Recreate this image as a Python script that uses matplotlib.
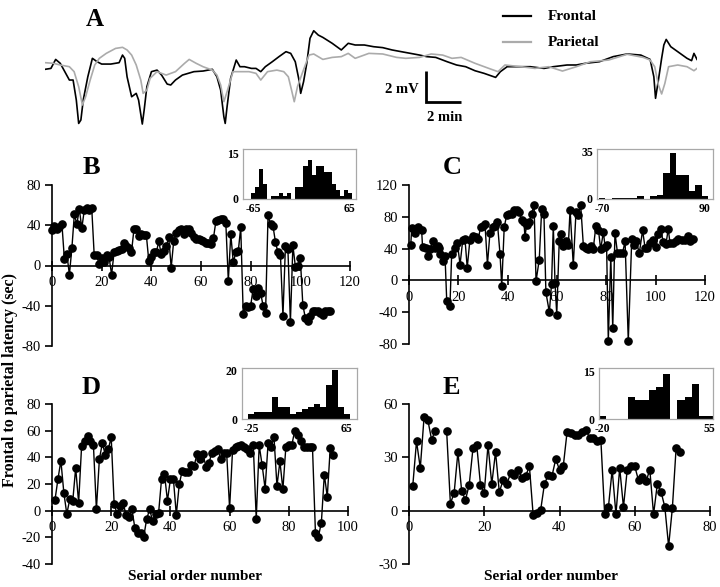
import numpy as np
import matplotlib
matplotlib.use('Agg')
import matplotlib.pyplot as plt
from matplotlib.lines import Line2D

plt.rcParams['font.family'] = ['Liberation Serif', 'DejaVu Serif']

# ---------------- Panel A traces (time in min, voltage in mV) ----------------
frontal_t = [0, 0.35, 0.63, 0.90, 1.17, 1.44, 1.66, 1.85, 1.99, 2.12,
             2.26, 2.53, 2.80, 3.08, 3.35, 3.89, 4.38, 4.58, 4.71, 4.85,
             5.12, 5.39, 5.53, 5.75, 5.86, 6.02, 6.29, 6.62, 6.89, 7.22,
             7.43, 7.71, 8.12, 8.80, 9.34, 9.89, 10.16, 10.38, 10.57, 10.65,
             10.76, 10.97, 11.30, 11.52, 11.79, 12.20, 12.47, 12.75, 13.02, 13.43,
             13.83, 14.24, 14.52, 14.79, 15.01, 15.11, 15.28, 15.47, 15.66, 15.88,
             16.15, 16.42, 16.97, 17.51, 17.92, 18.33, 18.87, 19.42, 19.96, 20.51,
             21.05, 21.60, 22.14, 22.55, 23.09, 23.77, 24.32, 24.86, 25.41, 25.95,
             26.63, 26.91, 27.31, 27.86, 28.68, 29.49, 30.04, 30.85, 31.40, 31.94,
             32.76, 33.58, 34.40, 35.21, 35.76, 35.98, 36.08, 36.25, 36.44, 36.57,
             36.71, 36.98, 37.39, 37.94, 38.21, 38.35, 38.53]
frontal_v = [-0.17, -0.11, 0.47, 0.22, -0.32, -0.86, -0.86, -2.15, -3.66, -3.44,
             -2.15, -0.65, 0.54, 0.32, 0.17, 0.17, 0.26, 0.75, 0.54, -0.65,
             -1.94, -1.72, -2.15, -3.70, -2.80, -1.29, -0.32, -0.22, -0.54, -1.12,
             -1.18, -0.86, -0.54, -0.32, -0.28, -0.17, -0.65, -1.51, -3.23, -3.66,
             -2.58, -0.75, 0.43, 0, 0, -0.11, -0.11, -0.32, 0, 0.32,
             0.65, 0.97, 0.86, 0.32, -0.86, -1.72, -0.97, 0.22, 1.83, 2.32,
             2.04, 1.89, 1.51, 1.08, 1.51, 1.40, 1.40, 1.29, 1.23, 1.08,
             0.97, 0.86, 0.75, 0.65, 0.60, 0.32, 0.11, 0, -0.26, -0.43,
             -0.69, -0.32, 0, 0, 0, -0.11, 0, 0.11, 0.11, 0.22,
             0.32, 0.65, 0.82, 0.75, 0.47, -0.65, -2.04, -0.86, 0.54, 1.40,
             1.76, 1.29, 0.97, 0.54, 0.39, 0.86, 0.47]
parietal_t = [0, 0.49, 0.90, 1.44, 1.72, 1.99, 2.21, 2.40, 2.67, 2.94,
              3.21, 3.62, 4.17, 4.58, 4.85, 5.12, 5.39, 5.66, 5.80, 6.02,
              6.21, 6.62, 7.16, 7.71, 8.25, 8.52, 8.93, 9.34, 9.89, 10.16,
              10.38, 10.57, 10.76, 11.11, 11.52, 12.06, 12.47, 12.75, 13.15, 13.70,
              14.11, 14.38, 14.57, 14.73, 14.92, 15.20, 15.60, 15.88, 16.42, 16.97,
              17.51, 17.92, 18.33, 19.14, 19.96, 20.78, 21.32, 22.14, 22.82, 23.50,
              24.05, 24.59, 25.41, 26.23, 26.77, 27.18, 28.13, 28.95, 29.77, 30.58,
              31.40, 32.22, 33.31, 34.40, 35.35, 35.76, 36.03, 36.25, 36.44, 36.63,
              36.85, 37.39, 37.94, 38.35, 38.53]
parietal_v = [0.26, 0.22, 0.11, 0, -0.32, -1.29, -2.47, -1.94, -0.86, 0.11,
              0.54, 0.86, 1.18, 1.25, 1.08, 0.75, 0.11, -0.86, -1.72, -1.51,
              -0.75, -0.32, -0.54, -0.32, 0.22, 0.47, 0.22, 0, -0.22, -0.54,
              -1.18, -2.26, -1.61, -0.32, -0.32, -0.32, -0.43, -0.86, -0.32, -0.22,
              -0.32, -0.65, -1.51, -2.26, -1.29, -0.43, 0.75, 0.82, 0.47, 0.60,
              0.65, 0.86, 0.54, 0.86, 0.82, 0.60, 0.54, 0.60, 0.82, 0.75,
              0.54, 0.60, 0.22, -0.11, -0.32, 0.11, 0, -0.11, 0, -0.28,
              0, 0.32, 0.43, 0.80, 0.60, 0.43, 0, -1.18, -1.76, -1.08,
              0, 0.11, 0, -0.26, -0.11]

# ---------------- Panel B ----------------
B_y = [35, 39, 36, 38, 41, 6, 11, -9, 17, 51,
       41, 56, 37, 55, 57, 55, 57, 10, 10, 1,
       7, 3, 10, 8, -9, 13, 14, 15, 16, 22,
       19, 17, 13, 36, 36, 29, 31, 30, 30, 4,
       8, 13, 13, 24, 11, 14, 19, 28, -2, 24,
       32, 35, 36, 31, 36, 36, 32, 28, 26, 26,
       25, 24, 22, 22, 21, 27, 44, 45, 46, 46,
       42, -15, 31, 3, 13, 14, 38, -48, -40, -41,
       -40, -23, -30, -22, -27, -40, -47, 50, 41, 39,
       23, 13, 10, -50, 19, 16, -56, 20, -1, 0,
       7, -39, -52, -55, -50, -45, -45, -45, -47, -49,
       -45, -45, -45]
B_x = list(range(len(B_y)))
B_hist = [2, 4, 10, 5, 0, 1, 1, 2, 1, 2, 0, 4, 4, 11, 13, 8, 11, 11, 9, 9, 5, 3, 1, 3, 2]

# ---------------- Panel C ----------------
C_x = [0.7, 1.1, 2.4, 3.8, 5.1, 5.5, 6.9, 7.8, 8.5, 9.6,
       10.5, 11.6, 12.3, 12.6, 13.6, 14.6, 15.3, 16.6, 17.3, 18.6,
       19.6, 20.7, 21.8, 22.7, 23.6, 24.7, 26.1, 27.2, 28.1, 29.0,
       30.1, 30.8, 31.8, 32.8, 33.9, 34.9, 35.8, 36.9, 37.6, 38.6,
       39.6, 40.7, 41.6, 42.6, 43.6, 44.7, 45.7, 46.6, 47.0, 47.7,
       48.8, 49.7, 50.7, 51.5, 52.8, 53.8, 54.7, 55.5, 56.9, 57.8,
       58.5, 59.2, 59.9, 60.9, 61.5, 62.6, 63.6, 64.6, 65.3, 66.6,
       67.7, 68.6, 69.6, 70.7, 71.8, 72.7, 73.6, 74.7, 75.8, 76.8,
       77.7, 78.8, 79.5, 80.1, 80.8, 81.8, 82.6, 83.5, 84.5, 85.5,
       86.6, 87.6, 88.9, 90.3, 91.2, 92.0, 93.4, 94.7, 95.7, 96.6,
       97.7, 99.0, 100.1, 101.1, 102.0, 103.1, 104.2, 105.1, 105.8, 107.2,
       108.2, 109.2, 110.5, 111.9, 113.2, 113.9, 115.0]
C_y = [44, 66, 59, 67, 64, 42, 41, 31, 39, 49,
       41, 43, 41, 33, 24, 31, -26, -32, 33, 41,
       47, 20, 51, 52, 16, 51, 56, 55, 52, 67,
       69, 71, 20, 59, 67, 69, 74, 33, -7, 67,
       82, 83, 83, 89, 89, 86, 76, 74, 55, 70,
       74, 84, 95, -1, 26, 90, 84, -15, -40, -4,
       69, -3, -43, 49, 58, 43, 49, 44, 89, 19,
       86, 82, 95, 43, 41, 39, 43, 40, 69, 64,
       39, 61, 42, 44, -76, 30, -60, 60, 35, 35,
       35, 49, -76, 52, 44, 49, 35, 63, 41, 41,
       47, 51, 42, 58, 65, 48, 46, 65, 47, 47,
       49, 52, 51, 51, 56, 49, 52]
C_hist = [1, 0, 1, 1, 1, 1, 2, 0, 2, 3, 19, 34, 18, 18, 6, 10, 2]

# ---------------- Panel D ----------------
D_y = [8, 23.5, 37.5, 13.5, -2.5, 8.5, 7, 32, 6, 48.5,
       52, 56, 52.5, 49, 1, 38.5, 50.5, 42, 46, 55,
       5, -2.5, 3.5, 6, -3, -4.5, 1, -13, -17, -17,
       -19.5, -6, 1, -8, -2.5, -2, 23.5, 27.5, 7.5, 23.5,
       24, -3, 20, 30, 29, 29, 34, 33.5, 42.5, 38.5,
       42.5, 33, 35.5, 43.5, 45, 46, 38.5, 43.5, 43.5, 1.8,
       45.5, 47.5, 48.5, 49, 47.5, 46, 43.5, 49, -6, 49,
       34, 16.5, 50.5, 47.5, 55, 18.5, 37, 16, 47.5, 49,
       49, 60, 57, 52.5, 47.5, 47.5, 47.5, 47.5, -16.5, -19.5,
       -9, 27, 10.5, 47, 42]
D_x = list(range(1, len(D_y) + 1))
D_hist = [2, 3, 3, 3, 9, 5, 5, 2, 3, 4, 5, 6, 5, 14, 20, 5, 2]

# ---------------- Panel E ----------------
E_y = [14, 39, 24, 52.5, 51, 40, 45, np.nan, np.nan, 45,
       4, 10, 33, 11, 6, 14.5, 35, 37, 14.5, 10,
       37, 15, 33, 10.5, 17, 15, 21, 20, 23, 18.5,
       19.5, 25, -2.5, -1.5, 0.5, 15, 20, 19.5, 29, 23,
       25, 44, 43.5, 42.5, 42.5, 44.5, 45.5, 41, 41, 39,
       39.5, -2, 2, 23, -2, 24, 2, 23, 25, 25,
       17, 19, 16.5, 23, -2, 15, 10.5, 2, -20, 1.5,
       35.5, 33]
E_x = list(range(1, len(E_y) + 1))
E_hist = [1, 0, 0, 0, 7, 6, 6, 9, 10, 14, 0, 6, 7, 11, 1, 1]

W, H = 720, 587
fig = plt.figure(figsize=(W / 100, H / 100), dpi=100)


def frac_rect(l, t, r, b):
    return [l / W, 1 - b / H, (r - l) / W, (b - t) / H]


# ---------------- Panel A ----------------
axA = fig.add_axes(frac_rect(45, 26.4, 697, 128.7))
axA.plot(frontal_t, frontal_v, color='black', lw=1.2)
axA.plot(parietal_t, parietal_v, color='#ababab', lw=1.2)
axA.set_xlim(0, 38.53)
axA.set_ylim(-4, 2.6)
axA.axis('off')
axA.plot([22.53, 22.53, 24.6], [-0.3, -2.3, -2.3], color='black', lw=2.0,
         solid_capstyle='butt', solid_joinstyle='miter')
axA.text(22.1, -1.45, '2 mV', ha='right', va='center', fontsize=10.5, fontweight='bold')
axA.text(23.6, -3.25, '2 min', ha='center', va='center', fontsize=10.5, fontweight='bold')

fig.add_artist(Line2D([503 / W, 531 / W], [1 - 16 / H] * 2, color='black', lw=1.6))
fig.add_artist(Line2D([503 / W, 531 / W], [1 - 42 / H] * 2, color='#ababab', lw=1.6))
fig.text(548 / W, 1 - 16 / H, 'Frontal', ha='left', va='center', fontsize=11, fontweight='bold')
fig.text(548 / W, 1 - 42 / H, 'Parietal', ha='left', va='center', fontsize=11, fontweight='bold')
fig.text(95 / W, 1 - 19 / H, 'A', ha='center', va='center', fontsize=18, fontweight='bold')


def panel(rect, x, y, xlim, ylim, xticks, yticks):
    ax = fig.add_axes(rect)
    ax.plot(x, y, color='black', lw=1.0, marker='o', ms=5.2, zorder=3, clip_on=False)
    ax.set_xlim(*xlim)
    ax.set_ylim(*ylim)
    ax.spines['top'].set_visible(False)
    ax.spines['right'].set_visible(False)
    ax.spines['bottom'].set_position(('data', 0))
    ax.spines['left'].set_linewidth(1.2)
    ax.spines['bottom'].set_linewidth(1.2)
    ax.set_xticks(xticks)
    ax.set_yticks(yticks)
    ax.set_xticklabels([str(v) for v in xticks])
    ax.set_yticklabels([str(v) for v in yticks])
    ax.tick_params(axis='y', direction='out', length=5, width=1.2, labelsize=10.5, pad=3)
    ax.tick_params(axis='x', direction='inout', length=7, width=1.2, labelsize=10.5, pad=4)
    ax.patch.set_visible(False)
    return ax


def inset(rect, counts, lo, hi, xlim, ytop, ylab):
    ax = fig.add_axes(rect)
    centers = np.linspace(lo, hi, len(counts))
    w = centers[1] - centers[0]
    ax.bar(centers, counts, width=w, color='black', edgecolor='none', linewidth=0)
    ax.set_xlim(*xlim)
    ax.set_ylim(0, ytop)
    for s in ax.spines.values():
        s.set_color('#a8a8a8')
        s.set_linewidth(0.9)
    ax.set_xticks([lo, hi])
    ax.set_xticklabels([str(lo), str(hi)])
    ax.set_yticks([0, ylab])
    ax.set_yticklabels(['0', str(ylab)])
    ax.tick_params(length=0, labelsize=8.5, pad=3)
    for lab in ax.get_xticklabels() + ax.get_yticklabels():
        lab.set_fontweight('bold')
    return ax


panel(frac_rect(52, 185, 350, 346), B_x, B_y, (0, 120), (-80, 80),
      [0, 20, 40, 60, 80, 100, 120], [-80, -40, 0, 40, 80])
panel(frac_rect(409, 185, 705, 344), C_x, C_y, (0, 120), (-80, 120),
      [0, 20, 40, 60, 80, 100, 120], [-80, -40, 0, 40, 80, 120])
panel(frac_rect(52, 404, 348, 564), D_x, D_y, (0, 100), (-40, 80),
      [0, 20, 40, 60, 80, 100], [-40, -20, 0, 20, 40, 60, 80])
panel(frac_rect(409, 404, 710, 564), E_x, E_y, (0, 80), (-30, 60),
      [0, 20, 40, 60, 80], [-30, 0, 30, 60])

inset(frac_rect(243, 149, 356, 199), B_hist, -65, 65, (-78.4, 73.1), 16.5, 15)
inset(frac_rect(597, 149, 713, 199), C_hist, -70, 90, (-78.1, 102.8), 37, 35)
inset(frac_rect(242, 368, 357, 419), D_hist, -25, 65, (-33.4, 74.4), 21, 20)
inset(frac_rect(599, 368, 713, 419), E_hist, -20, 55, (-22.5, 57.5), 16, 15)

for letter, (x, y) in zip('BCDE', [(91, 168), (452, 167), (91, 387), (451, 387)]):
    fig.text(x / W, 1 - y / H, letter, ha='center', va='center', fontsize=19, fontweight='bold')

fig.text(10 / W, 1 - 380 / H, 'Frontal to parietal latency (sec)', rotation=90,
         ha='center', va='center', fontsize=11.5, fontweight='bold')
fig.text(195 / W, 1 - 577 / H, 'Serial order number', ha='center', va='center',
         fontsize=11, fontweight='bold')
fig.text(551 / W, 1 - 577 / H, 'Serial order number', ha='center', va='center',
         fontsize=11, fontweight='bold')

fig.savefig('out.png', dpi=100)
